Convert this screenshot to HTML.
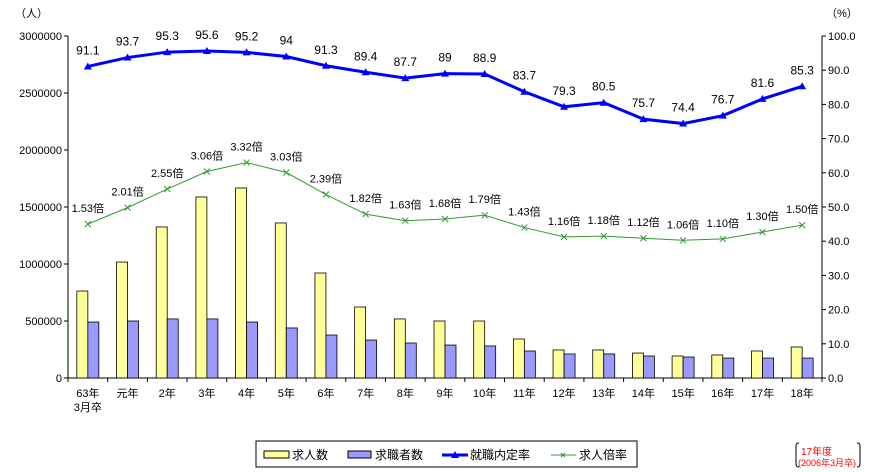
<!DOCTYPE html>
<html><head><meta charset="utf-8"><style>
body{margin:0;background:#fff;}
svg{display:block;font-family:"Liberation Sans","Noto Sans CJK JP",sans-serif;}
</style></head><body>
<svg id="c" width="873" height="472"></svg>
<script>
const categories=["63年","元年","2年","3年","4年","5年","6年","7年","8年","9年","10年","11年","12年","13年","14年","15年","16年","17年","18年"];
const jobOffers=[763000,1017000,1325000,1588000,1667000,1360000,921000,623000,518000,500000,500000,342000,246000,246000,219000,193000,202000,237000,272000];
const jobSeekers=[491000,500000,518000,518000,491000,439000,377000,333000,307000,289000,281000,237000,211000,211000,193000,184000,175000,175000,175000];
const placementRate=[91.1,93.7,95.3,95.6,95.2,94,91.3,89.4,87.7,89,88.9,83.7,79.3,80.5,75.7,74.4,76.7,81.6,85.3];
const offerRatio=[1.53,2.01,2.55,3.06,3.32,3.03,2.39,1.82,1.63,1.68,1.79,1.43,1.16,1.18,1.12,1.06,1.10,1.30,1.50];
const leftTicks=[0,500000,1000000,1500000,2000000,2500000,3000000];
const rightTicks=[0,10,20,30,40,50,60,70,80,90,100];
const rateLabels=["91.1","93.7","95.3","95.6","95.2","94","91.3","89.4","87.7","89","88.9","83.7","79.3","80.5","75.7","74.4","76.7","81.6","85.3"];
const ratioLabels=["1.53倍","2.01倍","2.55倍","3.06倍","3.32倍","3.03倍","2.39倍","1.82倍","1.63倍","1.68倍","1.79倍","1.43倍","1.16倍","1.18倍","1.12倍","1.06倍","1.10倍","1.30倍","1.50倍"];

const NS="http://www.w3.org/2000/svg";
const svg=document.getElementById('c');
const X0=68,X1=822,Y0=378,Y1=36;
const n=categories.length, bw=(X1-X0)/n;
const xc=i=>X0+bw*(i+0.5);
const yL=v=>Y0-(v/3000000)*(Y0-Y1);
const yR=v=>Y0-(v/100)*(Y0-Y1);
const yRatio=r=>yR(29.6+10.06*r);
function el(t,a,p){const e=document.createElementNS(NS,t);for(const k in a)e.setAttribute(k,a[k]);(p||svg).appendChild(e);return e;}
function tx(x,y,s,a,p){const e=el('text',Object.assign({x:x,y:y,'font-size':11,fill:'#000'},a||{}),p);e.textContent=s;return e;}

let a=el('line',{x1:X0,y1:Y1,x2:X0,y2:Y0,stroke:'#000'});

a=el('line',{x1:X1,y1:Y1,x2:X1,y2:Y0,stroke:'#000'});

a=el('line',{x1:X0,y1:Y0,x2:X1,y2:Y0,stroke:'#000'});

leftTicks.forEach(v=>{el('line',{x1:X0-4,x2:X0,y1:yL(v),y2:yL(v),stroke:'#000'});
 const t=tx(X0-6,yL(v)+4,String(v),{'text-anchor':'end'});
 });
rightTicks.forEach(v=>{el('line',{x1:X1,x2:X1+4,y1:yR(v),y2:yR(v),stroke:'#000'});
 const t=tx(X1+6,yR(v)+4,v.toFixed(1));
 });
for(let i=0;i<=n;i++)el('line',{x1:X0+bw*i,x2:X0+bw*i,y1:Y0,y2:Y0+4,stroke:'#000'});
let t=tx(15,17,'（人）');
t=tx(826,17,'（%）');

categories.forEach((c,i)=>{const l=tx(xc(i),397,c,{'text-anchor':'middle'});
 });
t=tx(xc(0),411,'3月卒',{'text-anchor':'middle'});

const w=11;
categories.forEach((c,i)=>{
 let b=el('rect',{x:xc(i)-w,y:yL(jobOffers[i]),width:w,height:Y0-yL(jobOffers[i]),fill:'#ffff99',stroke:'#000','stroke-width':0.8});
 
 b=el('rect',{x:xc(i),y:yL(jobSeekers[i]),width:w,height:Y0-yL(jobSeekers[i]),fill:'#9999ff',stroke:'#000','stroke-width':0.8});
 
});

let p=el('polyline',{points:offerRatio.map((r,i)=>xc(i)+','+yRatio(r)).join(' '),fill:'none',stroke:'#339933','stroke-width':1});

offerRatio.forEach((r,i)=>{const x=xc(i),y=yRatio(r);
 const m=el('path',{d:`M${x-3},${y-3}L${x+3},${y+3}M${x-3},${y+3}L${x+3},${y-3}`,stroke:'#339933'});
 
 const l=tx(x,y-12,ratioLabels[i],{'text-anchor':'middle'});
 });

p=el('polyline',{points:placementRate.map((r,i)=>xc(i)+','+yR(r)).join(' '),fill:'none',stroke:'#0000ff','stroke-width':3});

placementRate.forEach((r,i)=>{const x=xc(i),y=yR(r);
 const m=el('path',{d:`M${x},${y-4}L${x+4},${y+3}L${x-4},${y+3}Z`,fill:'#0000ff'});
 
 const l=tx(x,y-12,rateLabels[i],{'text-anchor':'middle','font-size':12});
 });

const g=el('g',{});
el('rect',{x:256,y:441,width:381,height:26,fill:'#fff',stroke:'#000'},g);
el('rect',{x:264,y:451,width:25,height:7,fill:'#ffff99',stroke:'#000'},g);
tx(292,459,'求人数',{'font-size':12},g);
el('rect',{x:348,y:451,width:23,height:7,fill:'#9999ff',stroke:'#000'},g);
tx(375,459,'求職者数',{'font-size':12},g);
el('line',{x1:442,x2:468,y1:455,y2:455,stroke:'#0000ff','stroke-width':3},g);
el('path',{d:'M455,451L459,458L451,458Z',fill:'#0000ff'},g);
tx(470,459,'就職内定率',{'font-size':12},g);
el('line',{x1:551,x2:576,y1:455,y2:455,stroke:'#339933'},g);
el('path',{d:'M561,453L565,457M561,457L565,453',stroke:'#339933'},g);
tx(579,459,'求人倍率',{'font-size':12},g);

const br=el('path',{d:'M799,443Q796,443 796,446L796,464Q796,467 799,467M857,443Q860,443 860,446L860,464Q860,467 857,467',fill:'none',stroke:'#000'});

t=tx(801,455,'17年度',{fill:'#ff0000','font-size':10});
t=tx(798,466,'(2006年3月卒)',{fill:'#ff0000','font-size':9});
</script>
</body></html>
